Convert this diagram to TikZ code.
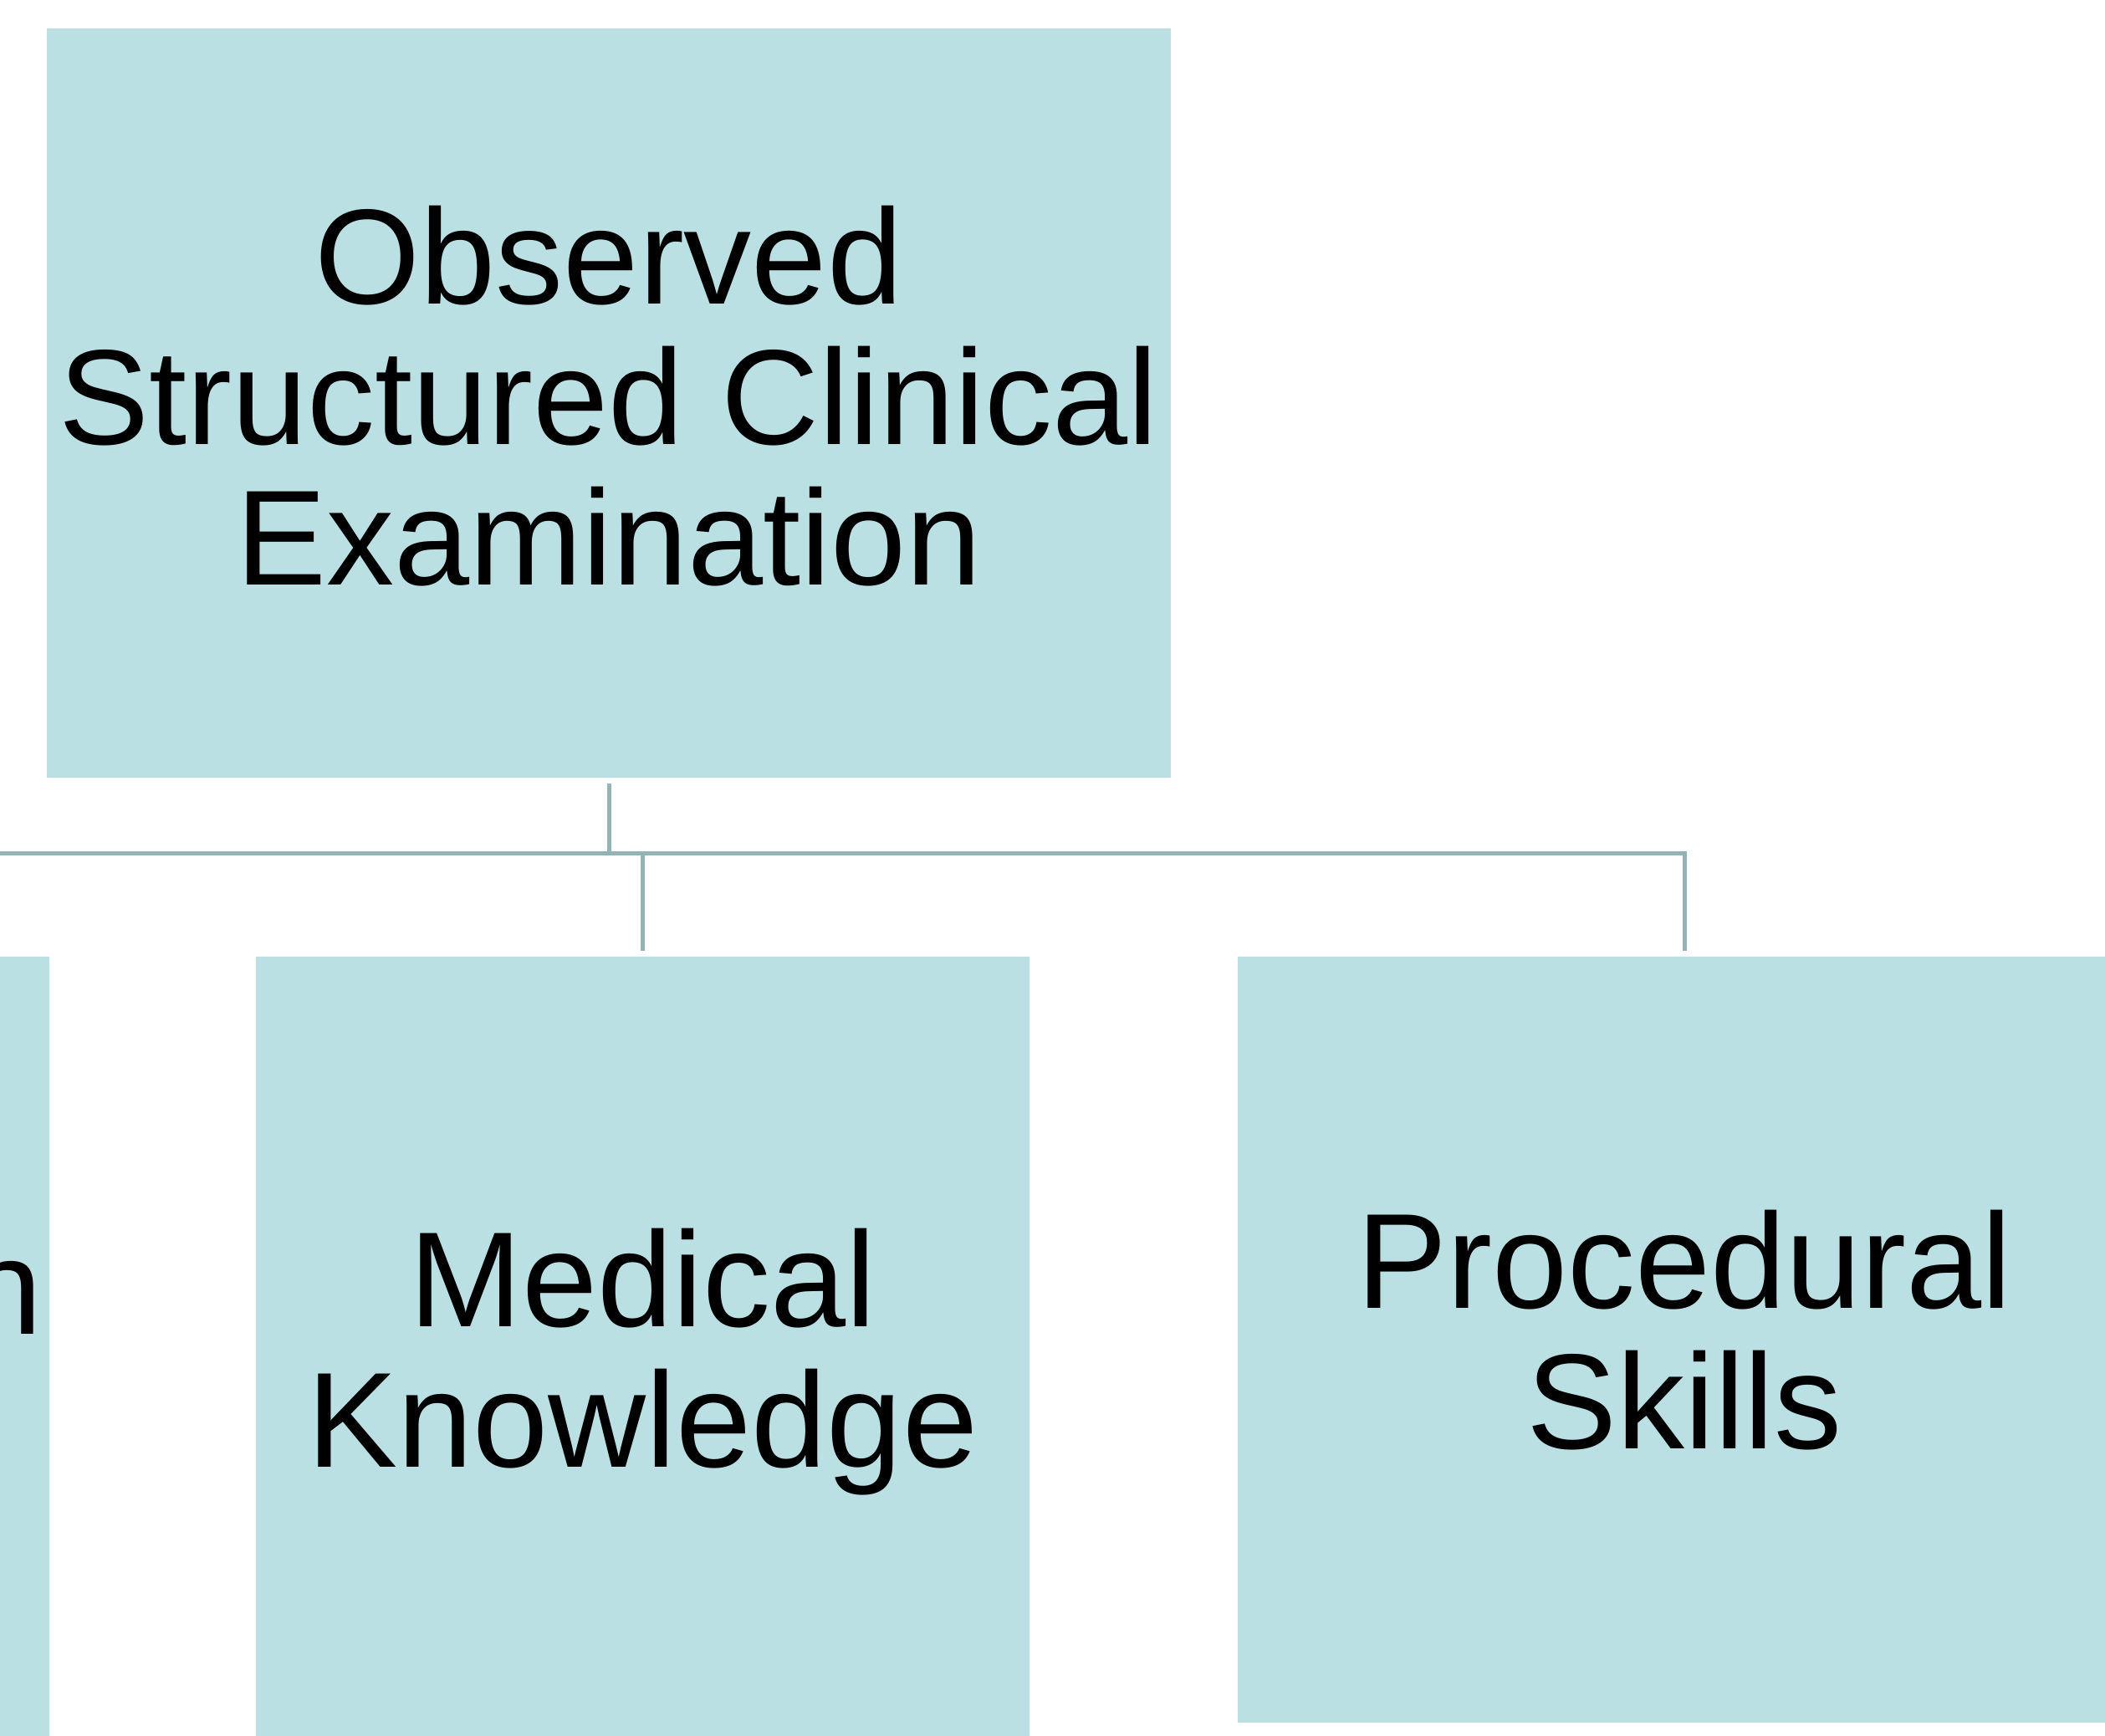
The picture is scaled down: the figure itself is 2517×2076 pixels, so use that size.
\documentclass[tikz,border=0pt]{standalone}
\usepackage{fontspec}
\setmainfont{Liberation Sans}
\definecolor{boxfill}{HTML}{BBE0E3}
\definecolor{linec}{HTML}{93B3B5}
\begin{document}
\begin{tikzpicture}[x=0.3pt,y=-0.3pt,
  box/.style={fill=boxfill, draw=none, inner sep=0pt},
  txt/.style={inner sep=0pt, align=center, font=\fontsize{48.6}{50.4}\selectfont},
  conn/.style={draw=linec, line width=1.5pt}]
\useasboundingbox (0,0) rectangle (2517,2076);
\clip (0,0) rectangle (2517,2076);
\node[box, minimum width=403.2pt, minimum height=268.8pt] (root) at (728,482) {};
\node[box, minimum width=277.5pt, minimum height=280.8pt] (left) at (-403.5,1612) {};
\node[box, minimum width=277.5pt, minimum height=280.8pt] (med) at (768.5,1612) {};
\node[box, minimum width=320.4pt, minimum height=274.8pt] (proc) at (2014,1602) {};
\node[txt] (roottext) at ([yshift=2.4pt]root.center) {Observed\\Structured Clinical\\Examination};
\node[txt] (medtext) at ([yshift=-5.1pt]med.center) {Medical\\Knowledge};
\node[txt] (proctext) at ([yshift=3.3pt]proc.center) {Procedural\\Skills};
\node[txt, anchor=base east] (lefttext) at (51,1595) {n};
\coordinate (bus) at (728,1020);
\draw[conn] ([yshift=-1.8pt]root.south) -- (bus);
\draw[conn] ([yshift=1.8pt]left.north) |- (bus) -| ([yshift=1.8pt]proc.north);
\draw[conn] (bus -| med.north) -- ([yshift=1.8pt]med.north);
\end{tikzpicture}
\end{document}
